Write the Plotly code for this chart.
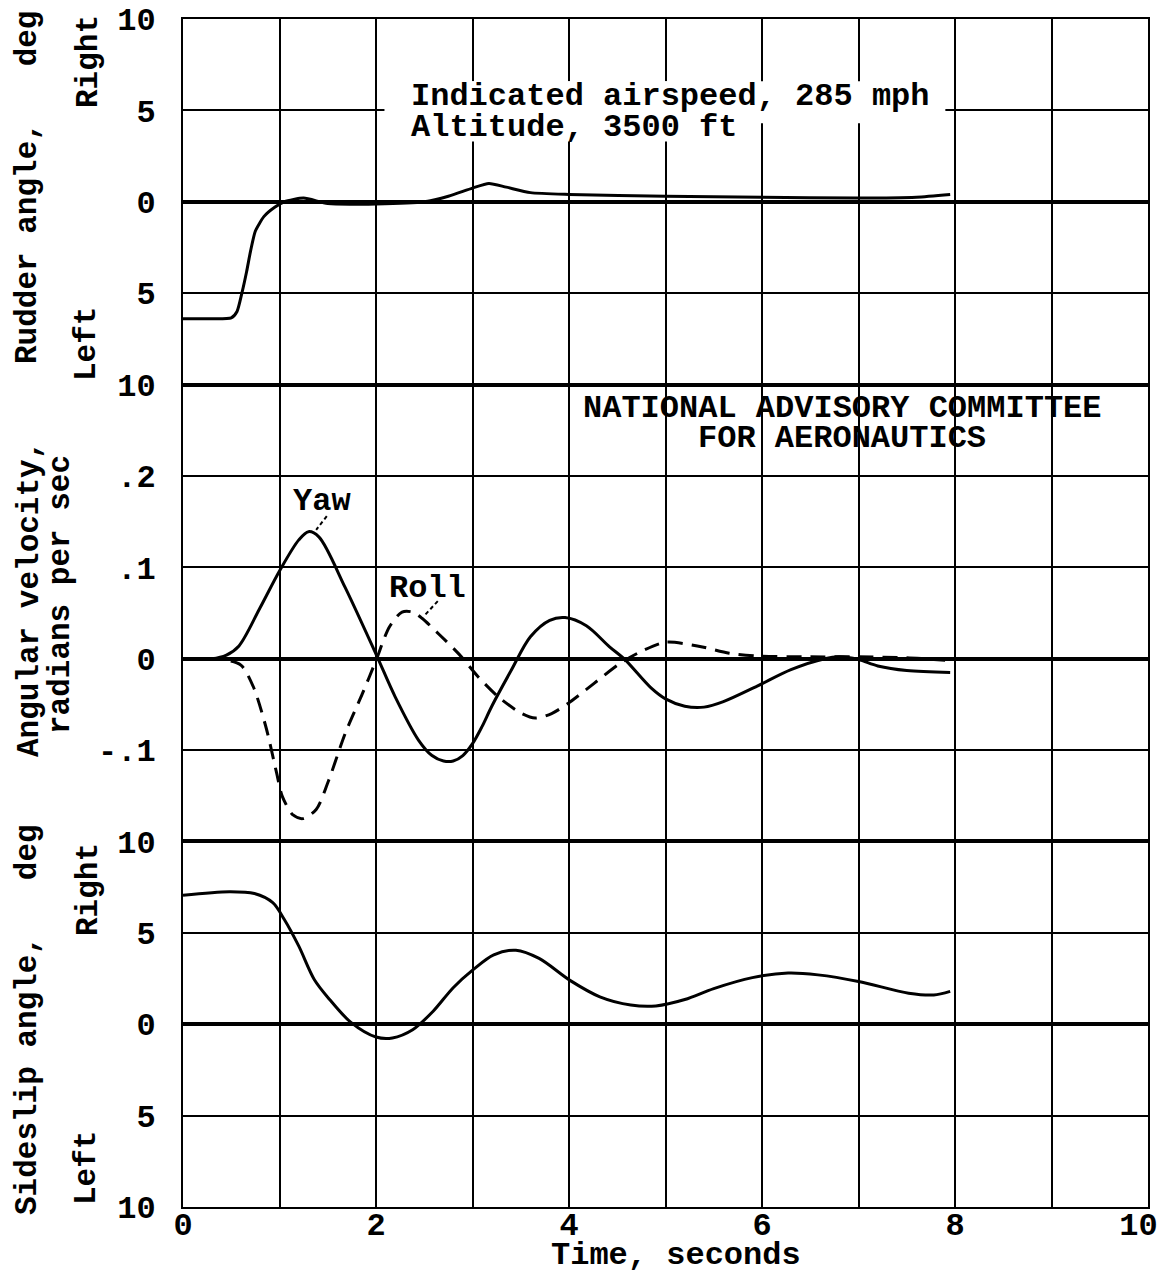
import plotly.graph_objects as go
from plotly.subplots import make_subplots

# ---------------- data ----------------
rudder_t = [0, 0.3, 0.5, 0.56, 0.61, 0.66, 0.7, 0.75, 0.84, 0.95, 1.05, 1.25, 1.5, 2.0, 2.5, 2.75, 3.0, 3.17, 3.35, 3.6, 4.0, 5.0, 6.0, 7.0, 7.6, 7.95]
rudder_deg = [-6.4, -6.4, -6.35, -6.0, -5.0, -3.8, -2.7, -1.6, -0.8, -0.3, 0.0, 0.2, -0.1, -0.12, 0.0, 0.3, 0.75, 1.0, 0.8, 0.5, 0.4, 0.3, 0.25, 0.2, 0.25, 0.4]

yaw_t = [0, 0.3, 0.45, 0.58, 0.8, 1.0, 1.2, 1.3, 1.41, 1.68, 2.0, 2.2, 2.44, 2.58, 2.7, 2.8, 2.9, 3.0, 3.1, 3.2, 3.4, 3.6, 3.8, 3.96, 4.18, 4.42, 4.57, 4.85, 5.0, 5.2, 5.4, 5.6, 5.95, 6.3, 6.65, 6.8, 7.0, 7.2, 7.5, 7.95]
yaw_rate = [0, 0.0, 0.004, 0.014, 0.056, 0.096, 0.13, 0.139, 0.133, 0.078, 0.005, -0.042, -0.089, -0.106, -0.112, -0.112, -0.106, -0.093, -0.074, -0.052, -0.013, 0.024, 0.042, 0.045, 0.036, 0.013, 0.0, -0.032, -0.044, -0.052, -0.053, -0.047, -0.03, -0.012, 0.0, 0.002, -0.001, -0.008, -0.013, -0.015]

roll_t = [0, 0.42, 0.6, 0.73, 0.86, 0.97, 1.03, 1.14, 1.24, 1.38, 1.51, 1.68, 1.86, 2.0, 2.14, 2.27, 2.38, 2.48, 2.65, 2.86, 3.06, 3.27, 3.51, 3.65, 3.82, 3.99, 4.26, 4.53, 4.77, 5.0, 5.33, 5.66, 5.95, 6.5, 7.0, 7.5, 7.95]
roll_rate = [0, -0.001, -0.007, -0.031, -0.075, -0.125, -0.151, -0.171, -0.175, -0.165, -0.133, -0.082, -0.038, -0.002, 0.035, 0.051, 0.051, 0.044, 0.027, 0.005, -0.02, -0.042, -0.06, -0.065, -0.06, -0.049, -0.027, -0.005, 0.009, 0.018, 0.014, 0.006, 0.003, 0.002, 0.002, 0.001, -0.002]

sideslip_t = [0, 0.48, 0.74, 0.93, 1.05, 1.2, 1.36, 1.52, 1.74, 2.0, 2.17, 2.38, 2.59, 2.8, 3.01, 3.22, 3.45, 3.69, 4.01, 4.32, 4.64, 4.9, 5.2, 5.5, 5.9, 6.27, 6.58, 7.0, 7.52, 7.78, 7.95]
sideslip_deg = [7.05, 7.25, 7.15, 6.65, 5.73, 4.27, 2.45, 1.35, 0.1, -0.7, -0.75, -0.3, 0.7, 2.0, 3.0, 3.8, 4.05, 3.6, 2.4, 1.5, 1.05, 1.0, 1.35, 1.95, 2.55, 2.8, 2.7, 2.34, 1.7, 1.6, 1.8]

x_ticks = list(range(0, 11))
x_ticktext = ["0", "", "2", "", "4", "", "6", "", "8", "", "10\u00a0"]
deg_ticks = [-10, -5, 0, 5, 10]
deg_ticktext = ["10", "5", "0", "5", "10"]
rate_ticks = [-0.2, -0.1, 0, 0.1, 0.2, 0.3]
rate_ticktext = ["", "-.1", "0", ".1", ".2", ""]

FONT = "Liberation Mono, Courier New, monospace"
FS = 31
OFF = 8                      # page body margin of the browser
FIG_W, FIG_H = 1168 - 2 * OFF, 1278 - OFF
L, T = 183 - OFF, 19 - OFF
R = FIG_W - (1148 - OFF)
B = FIG_H - (1207 - OFF)
W, H = FIG_W - L - R, FIG_H - T - B

fig = make_subplots(rows=3, cols=1, shared_xaxes=True, vertical_spacing=0,
                    row_heights=[4, 5, 4])

fig.add_trace(go.Scatter(x=rudder_t, y=rudder_deg, mode="lines",
                         line=dict(color="black", width=3, shape="spline", smoothing=0.6),
                         name="Rudder"), row=1, col=1)
fig.add_trace(go.Scatter(x=yaw_t, y=yaw_rate, mode="lines",
                         line=dict(color="black", width=3, shape="spline", smoothing=0.9),
                         name="Yaw"), row=2, col=1)
fig.add_trace(go.Scatter(x=roll_t, y=roll_rate, mode="lines",
                         line=dict(color="black", width=3, shape="spline", smoothing=0.8, dash="15px,9px"),
                         name="Roll"), row=2, col=1)
fig.add_trace(go.Scatter(x=sideslip_t, y=sideslip_deg, mode="lines",
                         line=dict(color="black", width=3, shape="spline", smoothing=0.9),
                         name="Sideslip"), row=3, col=1)

tickfont = dict(family=FONT, size=32, color="black", weight="bold")
axis_common = dict(showgrid=True, gridcolor="black", gridwidth=1.5,
                   showline=True, linecolor="black", linewidth=2, mirror=True,
                   ticks="", automargin=False, tickfont=tickfont,
                   ticklabeloverflow="allow")

for r in (1, 2, 3):
    fig.update_xaxes(range=[0, 10], tickvals=x_ticks, ticktext=x_ticktext,
                     showticklabels=(r == 3), zeroline=False, row=r, col=1, **axis_common)
fig.update_xaxes(ticklabelstandoff=-12, row=3, col=1)

yz = dict(zeroline=True, zerolinecolor="black", zerolinewidth=3.5, ticklabelstandoff=19)
fig.update_yaxes(range=[-10, 10], tickvals=deg_ticks, ticktext=deg_ticktext,
                 row=1, col=1, **axis_common, **yz)
fig.update_yaxes(range=[-0.2, 0.3], tickvals=rate_ticks, ticktext=rate_ticktext,
                 row=2, col=1, **axis_common, **yz)
fig.update_yaxes(range=[-10, 10], tickvals=deg_ticks, ticktext=deg_ticktext,
                 row=3, col=1, **axis_common, **yz)

# white patches behind the flight-condition note (gridlines are blanked there)
fig.add_shape(type="rect", xref="x", yref="y", x0=2.09, x1=7.9, y0=4.3, y1=6.6,
              fillcolor="white", line=dict(width=0), layer="between")
fig.add_shape(type="rect", xref="x", yref="y", x0=2.09, x1=5.9, y0=3.3, y1=6.6,
              fillcolor="white", line=dict(width=0), layer="between")

ann_font = dict(family=FONT, size=32, color="black", weight="bold")
side_font = dict(family=FONT, size=31, color="black", weight="bold")


def px(xp):
    return (xp - OFF - L) / W


def py(yp):
    return (T + H - (yp - OFF)) / H


ann = []
ann.append(dict(text="Indicated airspeed, 285 mph", xref="paper", yref="paper", x=px(409), y=py(97),
                xanchor="left", yanchor="middle", showarrow=False, font=ann_font))
ann.append(dict(text="Altitude, 3500 ft", xref="paper", yref="paper", x=px(409), y=py(127),
                xanchor="left", yanchor="middle", showarrow=False, font=ann_font))
ann.append(dict(text="NATIONAL ADVISORY COMMITTEE", xref="paper", yref="paper", x=px(842), y=py(408),
                xanchor="center", yanchor="middle", showarrow=False, font=ann_font))
ann.append(dict(text="FOR AERONAUTICS", xref="paper", yref="paper", x=px(842), y=py(438),
                xanchor="center", yanchor="middle", showarrow=False, font=ann_font))
ann.append(dict(text="Yaw", xref="x2", yref="y2", x=1.44, y=0.1725,
                xanchor="center", yanchor="middle", showarrow=False, font=ann_font))
ann.append(dict(text="Roll", xref="x2", yref="y2", x=2.53, y=0.077,
                xanchor="center", yanchor="middle", showarrow=False, font=ann_font))
ann.append(dict(text="Time, seconds", xref="paper", yref="paper", x=px(676), y=py(1255),
                xanchor="center", yanchor="middle", showarrow=False, font=ann_font))

side = [
    ("Rudder angle,   deg", 27, 188),
    ("Right", 88, 62),
    ("Left", 86, 344),
    ("Angular velocity,", 29, 599),
    ("radians per sec", 60, 595),
    ("Sideslip angle,   deg", 27, 1020),
    ("Right", 88, 890),
    ("Left", 86, 1168),
]
for txt, xp, yp in side:
    ann.append(dict(text=txt, xref="paper", yref="paper", x=px(xp), y=py(yp),
                    xanchor="center", yanchor="middle", textangle=-90,
                    showarrow=False, font=side_font))
fig.update_layout(annotations=ann)

# dashed leaders from the labels to the curves
fig.add_shape(type="line", xref="x2", yref="y2", x0=1.49, y0=0.156, x1=1.38, y1=0.141,
              line=dict(color="black", width=2, dash="4px,3px"))
fig.add_shape(type="line", xref="x2", yref="y2", x0=2.64, y0=0.063, x1=2.5, y1=0.047,
              line=dict(color="black", width=2, dash="4px,3px"))

fig.update_layout(width=FIG_W, height=FIG_H, showlegend=False,
                  plot_bgcolor="white", paper_bgcolor="white",
                  margin=dict(l=L, r=R, t=T, b=B, autoexpand=False),
                  font=dict(family=FONT, size=FS, color="black", weight="bold"))

fig.write_html("out.html")
